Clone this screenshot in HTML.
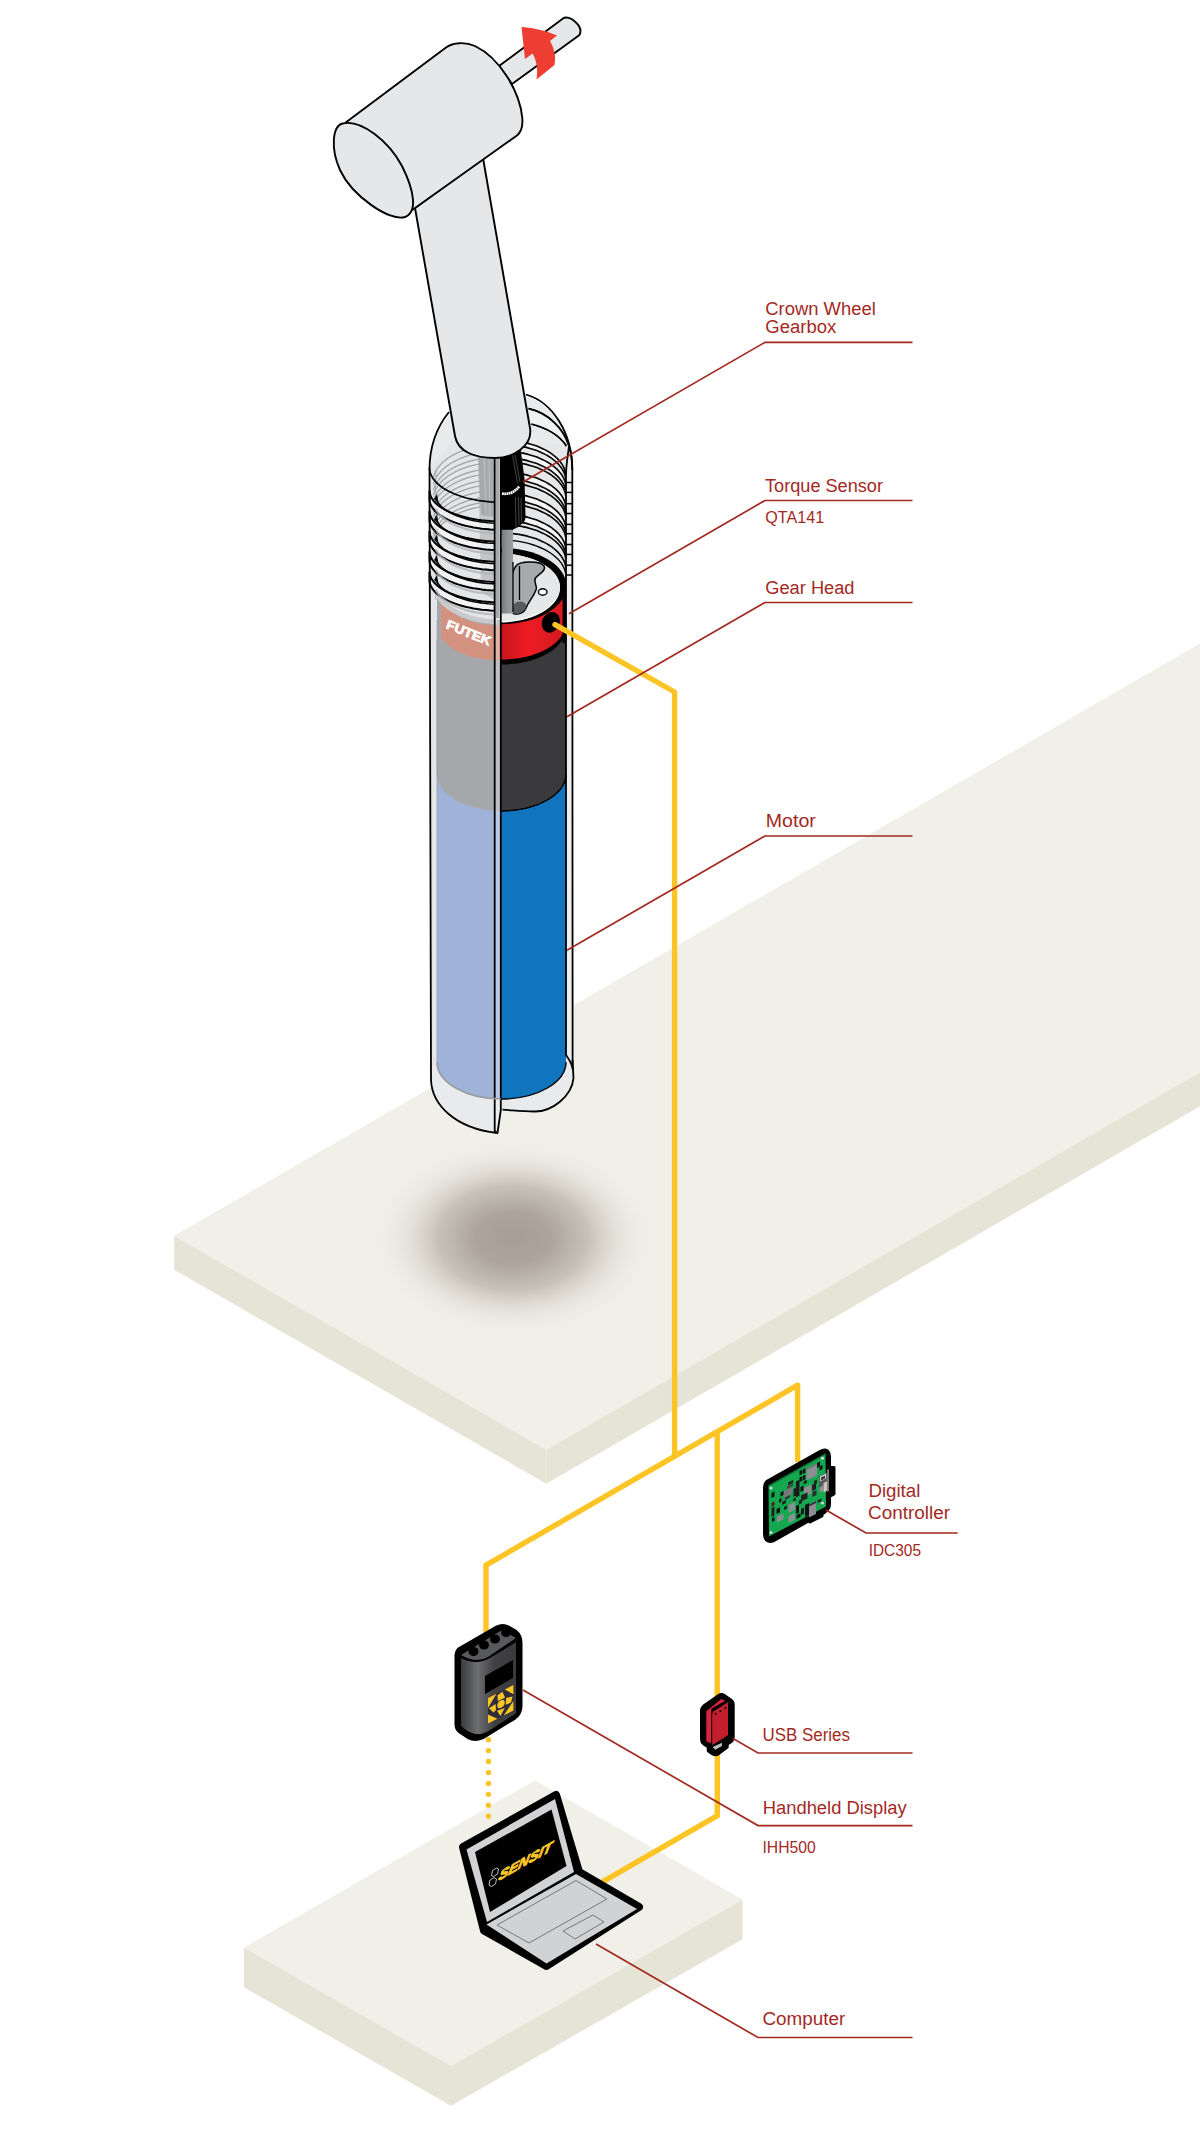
<!DOCTYPE html>
<html><head><meta charset="utf-8"><title>Diagram</title>
<style>html,body{margin:0;padding:0;background:#fff;}svg{display:block}</style></head>
<body><svg width="1200" height="2134" viewBox="0 0 1200 2134">
<defs>
<radialGradient id="shadow" cx="0.5" cy="0.5" r="0.5">
<stop offset="0" stop-color="#a79d94" stop-opacity="1"/>
<stop offset="0.25" stop-color="#a9a097" stop-opacity="0.95"/>
<stop offset="0.5" stop-color="#b5ada4" stop-opacity="0.7"/>
<stop offset="0.7" stop-color="#cfc9c0" stop-opacity="0.35"/>
<stop offset="0.88" stop-color="#e6e3da" stop-opacity="0.1"/>
<stop offset="1" stop-color="#f0efe8" stop-opacity="0"/>
</radialGradient>
<linearGradient id="redg" x1="0" x2="1" y1="0" y2="0">
<stop offset="0.5" stop-color="#c4161c"/><stop offset="0.7" stop-color="#ed1c24"/><stop offset="1" stop-color="#d2191f"/>
</linearGradient>
<linearGradient id="shaftg" x1="0" x2="1" y1="0" y2="0">
<stop offset="0" stop-color="#77787b"/><stop offset="0.5" stop-color="#8f9194"/><stop offset="1" stop-color="#9d9fa2"/>
</linearGradient>
<linearGradient id="hhg" x1="0" x2="1" y1="0" y2="0">
<stop offset="0" stop-color="#3a3a3c"/><stop offset="0.3" stop-color="#6d6e71"/><stop offset="0.6" stop-color="#414042"/><stop offset="1" stop-color="#3a3a3c"/>
</linearGradient>
</defs>
<rect width="1200" height="2134" fill="#fff"/>
<polygon points="174.2,1235.8 1200,643.5 1200,1072.3 546.3,1449.7" fill="#f0efe8"/>
<polygon points="174.2,1235.8 546.3,1449.7 546.3,1483.7 174.2,1269.8" fill="#e5e4d6"/>
<polygon points="546.3,1449.7 1200,1072.3 1200,1106.3 546.3,1483.7" fill="#e5e4d6"/>
<ellipse cx="513" cy="1238" rx="150" ry="104" fill="url(#shadow)"/>
<polygon points="244,1947.6 535,1780.4 742.6,1899.5 451,2066" fill="#f0efe8"/>
<polygon points="244,1947.6 451,2066 451,2105.7 244,1987.3" fill="#e5e4d6"/>
<polygon points="451,2066 742.6,1899.5 742.6,1939.2 451,2105.7" fill="#e5e4d6"/>
<g fill="none" stroke="#fcc425" stroke-width="5.4" stroke-linejoin="round">
<path d="M797.6,1462 L797.6,1385.2 L486,1565.2 L486,1640"/>
<path d="M717.2,1431 L717.2,1700"/>
<path d="M717.3,1750 L717.3,1815.6 L596,1885.6" stroke-linejoin="miter"/>
</g>
<path d="M488.5,1739.7 L488.5,1817" fill="none" stroke="#fcc425" stroke-width="5.4" stroke-linecap="round" stroke-dasharray="0.01 10.92"/>
<path d="M429.5,470 C429.5,425 460,392.5 503,392.5 C545,392.5 572.3,425 572.3,470 L573.5,1078 C572,1096 552,1112 534,1111.5 C522,1111.5 510,1110 502.5,1109.7 L497,1133 C455,1128 432,1105 431,1080 Z" fill="#e9eaeb"/>
<path d="M437,774 L437,1062 A64.5,37 0 0 0 566,1062 L566,774 Z" fill="#1174bf"/>
<path d="M437,620 L437,774 A64.5,37 0 0 0 566,774 L566,620 Z" fill="#3a3a3c" stroke="#000" stroke-width="1"/>
<path d="M437,600 L437,627.5 A64.5,37 0 0 0 566,627.5 L566,585 Z" fill="#000"/>
<path d="M437,585 L437,622.5 A64.5,37 0 0 0 566,622.5 L566,585 Z" fill="url(#redg)"/>
<rect x="562.6" y="585" width="4" height="58" fill="#000"/>
<path d="M501,440 L566,445 L566,586 L501,586 Z" fill="#e6e7e8"/>
<path d="M528.5,408.7 C548,413 563,428 568.5,445 M531.4,424 C547,428 560,436 566.5,446" fill="none" stroke="#000" stroke-width="1.7"/>
<path d="M528.5,408.7 C548,413 563,428 568.5,445 L566.5,446 C560,436 547,428 531.4,424 Z" fill="#f1f2f2"/>
<path d="M528.5,408.7 C548,413 563,428 568.5,445 M531.4,424 C547,428 560,436 566.5,446" fill="none" stroke="#000" stroke-width="1.7"/>
<path d="M503.3,440.0 L507.2,440.2 L511.2,440.5 L515.1,440.9 L518.9,441.4 L522.7,442.1 L526.4,442.9 L530.0,443.9 L533.5,445.0 L536.9,446.1 L540.1,447.5 L543.2,448.9 L546.2,450.4 L548.9,452.0 L551.5,453.7 L553.9,455.5 L556.1,457.4 L558.1,459.3 L559.9,461.4 L561.5,463.4 L562.8,465.6 L563.9,467.7 L564.8,469.9 L565.4,472.2 L565.8,474.4 L565.8,478.9 L565.4,476.7 L564.8,474.4 L563.9,472.2 L562.8,470.1 L561.5,467.9 L559.9,465.9 L558.1,463.8 L556.1,461.9 L553.9,460.0 L551.5,458.2 L548.9,456.5 L546.2,454.9 L543.2,453.4 L540.1,452.0 L536.9,450.6 L533.5,449.5 L530.0,448.4 L526.4,447.4 L522.7,446.6 L518.9,445.9 L515.1,445.4 L511.2,445.0 L507.2,444.7 L503.3,444.5 Z" fill="#f4f4f5" stroke="#000" stroke-width="1.6"/>
<path d="M503.3,451.0 L507.2,451.2 L511.2,451.5 L515.1,451.9 L518.9,452.4 L522.7,453.1 L526.4,453.9 L530.0,454.9 L533.5,456.0 L536.9,457.1 L540.1,458.5 L543.2,459.9 L546.2,461.4 L548.9,463.0 L551.5,464.7 L553.9,466.5 L556.1,468.4 L558.1,470.3 L559.9,472.4 L561.5,474.4 L562.8,476.6 L563.9,478.7 L564.8,480.9 L565.4,483.2 L565.8,485.4 L565.8,491.9 L565.4,489.7 L564.8,487.4 L563.9,485.2 L562.8,483.1 L561.5,480.9 L559.9,478.9 L558.1,476.8 L556.1,474.9 L553.9,473.0 L551.5,471.2 L548.9,469.5 L546.2,467.9 L543.2,466.4 L540.1,465.0 L536.9,463.6 L533.5,462.5 L530.0,461.4 L526.4,460.4 L522.7,459.6 L518.9,458.9 L515.1,458.4 L511.2,458.0 L507.2,457.7 L503.3,457.5 Z" fill="#f4f4f5" stroke="#000" stroke-width="1.6"/>
<path d="M503.3,461.5 L507.2,461.7 L511.2,462.0 L515.1,462.4 L518.9,462.9 L522.7,463.6 L526.4,464.4 L530.0,465.4 L533.5,466.5 L536.9,467.6 L540.1,469.0 L543.2,470.4 L546.2,471.9 L548.9,473.5 L551.5,475.2 L553.9,477.0 L556.1,478.9 L558.1,480.8 L559.9,482.9 L561.5,484.9 L562.8,487.1 L563.9,489.2 L564.8,491.4 L565.4,493.7 L565.8,495.9" fill="none" stroke="#000" stroke-width="1.6"/>
<path d="M503.3,472.0 L507.2,472.2 L511.2,472.5 L515.1,472.9 L518.9,473.4 L522.7,474.1 L526.4,474.9 L530.0,475.9 L533.5,477.0 L536.9,478.1 L540.1,479.5 L543.2,480.9 L546.2,482.4 L548.9,484.0 L551.5,485.7 L553.9,487.5 L556.1,489.4 L558.1,491.3 L559.9,493.4 L561.5,495.4 L562.8,497.6 L563.9,499.7 L564.8,501.9 L565.4,504.2 L565.8,506.4 L565.8,512.9 L565.4,510.7 L564.8,508.4 L563.9,506.2 L562.8,504.1 L561.5,501.9 L559.9,499.9 L558.1,497.8 L556.1,495.9 L553.9,494.0 L551.5,492.2 L548.9,490.5 L546.2,488.9 L543.2,487.4 L540.1,486.0 L536.9,484.6 L533.5,483.5 L530.0,482.4 L526.4,481.4 L522.7,480.6 L518.9,479.9 L515.1,479.4 L511.2,479.0 L507.2,478.7 L503.3,478.5 Z" fill="#f4f4f5" stroke="#000" stroke-width="1.6"/>
<path d="M503.3,482.5 L507.2,482.7 L511.2,483.0 L515.1,483.4 L518.9,483.9 L522.7,484.6 L526.4,485.4 L530.0,486.4 L533.5,487.5 L536.9,488.6 L540.1,490.0 L543.2,491.4 L546.2,492.9 L548.9,494.5 L551.5,496.2 L553.9,498.0 L556.1,499.9 L558.1,501.8 L559.9,503.9 L561.5,505.9 L562.8,508.1 L563.9,510.2 L564.8,512.4 L565.4,514.7 L565.8,516.9" fill="none" stroke="#000" stroke-width="1.6"/>
<path d="M503.3,493.0 L507.2,493.2 L511.2,493.5 L515.1,493.9 L518.9,494.4 L522.7,495.1 L526.4,495.9 L530.0,496.9 L533.5,498.0 L536.9,499.1 L540.1,500.5 L543.2,501.9 L546.2,503.4 L548.9,505.0 L551.5,506.7 L553.9,508.5 L556.1,510.4 L558.1,512.3 L559.9,514.4 L561.5,516.4 L562.8,518.6 L563.9,520.7 L564.8,522.9 L565.4,525.2 L565.8,527.4 L565.8,533.9 L565.4,531.7 L564.8,529.4 L563.9,527.2 L562.8,525.1 L561.5,522.9 L559.9,520.9 L558.1,518.8 L556.1,516.9 L553.9,515.0 L551.5,513.2 L548.9,511.5 L546.2,509.9 L543.2,508.4 L540.1,507.0 L536.9,505.6 L533.5,504.5 L530.0,503.4 L526.4,502.4 L522.7,501.6 L518.9,500.9 L515.1,500.4 L511.2,500.0 L507.2,499.7 L503.3,499.5 Z" fill="#f4f4f5" stroke="#000" stroke-width="1.6"/>
<path d="M503.3,503.5 L507.2,503.7 L511.2,504.0 L515.1,504.4 L518.9,504.9 L522.7,505.6 L526.4,506.4 L530.0,507.4 L533.5,508.5 L536.9,509.6 L540.1,511.0 L543.2,512.4 L546.2,513.9 L548.9,515.5 L551.5,517.2 L553.9,519.0 L556.1,520.9 L558.1,522.8 L559.9,524.9 L561.5,526.9 L562.8,529.1 L563.9,531.2 L564.8,533.4 L565.4,535.7 L565.8,537.9" fill="none" stroke="#000" stroke-width="1.6"/>
<path d="M503.3,514.0 L507.2,514.2 L511.2,514.5 L515.1,514.9 L518.9,515.4 L522.7,516.1 L526.4,516.9 L530.0,517.9 L533.5,519.0 L536.9,520.1 L540.1,521.5 L543.2,522.9 L546.2,524.4 L548.9,526.0 L551.5,527.7 L553.9,529.5 L556.1,531.4 L558.1,533.3 L559.9,535.4 L561.5,537.4 L562.8,539.6 L563.9,541.7 L564.8,543.9 L565.4,546.2 L565.8,548.4 L565.8,554.9 L565.4,552.7 L564.8,550.4 L563.9,548.2 L562.8,546.1 L561.5,543.9 L559.9,541.9 L558.1,539.8 L556.1,537.9 L553.9,536.0 L551.5,534.2 L548.9,532.5 L546.2,530.9 L543.2,529.4 L540.1,528.0 L536.9,526.6 L533.5,525.5 L530.0,524.4 L526.4,523.4 L522.7,522.6 L518.9,521.9 L515.1,521.4 L511.2,521.0 L507.2,520.7 L503.3,520.5 Z" fill="#f4f4f5" stroke="#000" stroke-width="1.6"/>
<path d="M503.3,524.5 L507.2,524.7 L511.2,525.0 L515.1,525.4 L518.9,525.9 L522.7,526.6 L526.4,527.4 L530.0,528.4 L533.5,529.5 L536.9,530.6 L540.1,532.0 L543.2,533.4 L546.2,534.9 L548.9,536.5 L551.5,538.2 L553.9,540.0 L556.1,541.9 L558.1,543.8 L559.9,545.9 L561.5,547.9 L562.8,550.1 L563.9,552.2 L564.8,554.4 L565.4,556.7 L565.8,558.9" fill="none" stroke="#000" stroke-width="1.6"/>
<path d="M503.3,533.0 L507.2,533.2 L511.2,533.5 L515.1,533.9 L518.9,534.4 L522.7,535.1 L526.4,535.9 L530.0,536.9 L533.5,538.0 L536.9,539.1 L540.1,540.5 L543.2,541.9 L546.2,543.4 L548.9,545.0 L551.5,546.7 L553.9,548.5 L556.1,550.4 L558.1,552.3 L559.9,554.4 L561.5,556.4 L562.8,558.6 L563.9,560.7 L564.8,562.9 L565.4,565.2 L565.8,567.4" fill="none" stroke="#000" stroke-width="1.6"/>
<path d="M503.3,540.0 L507.2,540.2 L511.2,540.5 L515.1,540.9 L518.9,541.4 L522.7,542.1 L526.4,542.9 L530.0,543.9 L533.5,545.0 L536.9,546.1 L540.1,547.5 L543.2,548.9 L546.2,550.4 L548.9,552.0 L551.5,553.7 L553.9,555.5 L556.1,557.4 L558.1,559.3 L559.9,561.4 L561.5,563.4 L562.8,565.6 L563.9,567.7 L564.8,569.9 L565.4,572.2 L565.8,574.4" fill="none" stroke="#000" stroke-width="1.4"/>
<ellipse cx="501" cy="586" rx="65.5" ry="38.2" fill="#000"/>
<ellipse cx="498.5" cy="588" rx="61.5" ry="34.6" fill="#fff"/>
<ellipse cx="498.5" cy="587.3" rx="61.5" ry="33.8" fill="#e6e7e8"/>
<path d="M516,566 C519,561 540,560.5 544,566 C547,571 538,574 535.5,578 C533,582 538,586 536,590 C533,598 528,602 526,608 C524,614 514,616 512,612 C508,600 509,575 516,566 Z" fill="#a7a9ac" stroke="#000" stroke-width="1.5"/>
<path d="M514,604 C518,600 526,601 526,606 C526,613 515,616 512.5,612 Z" fill="#58595b"/>
<ellipse cx="542.7" cy="592" rx="4.3" ry="3.2" fill="#fff" stroke="#000" stroke-width="1.4"/>
<rect x="501.5" y="525" width="11.5" height="88.5" fill="url(#shaftg)"/>
<path d="M513,562 L513,612 M519.5,566 L519.5,600" stroke="#000" stroke-width="1.3" fill="none"/>
<path d="M500.4,452 L520.6,449 L524.5,478.6 L525.5,517 Q525.5,521 522.6,523 L518.6,526.8 L512.7,529.8 L500.4,529.8 Z" fill="#000"/>
<path d="M502,493.6 Q513,495 519.3,486.2" fill="none" stroke="#fff" stroke-width="2.7" stroke-dasharray="1.8 0.4"/>
<path d="M512.5,455 L517.5,483 M515,455 L520,482 M515.5,497 L516,527 M518.5,497 L519,525 M521,498 L521.5,522" fill="none" stroke="#8a8c8f" stroke-width="0.5"/>
<ellipse cx="550.8" cy="622.3" rx="8.8" ry="10.6" transform="rotate(25 550.8 622.3)" fill="#000"/>
<path d="M566,475 L566,1055 C568,1058 572,1063 572.6,1069 L572.3,470 C572.3,460 571,452 569,446 C568,455 566,465 566,475 Z" fill="#eeeff0" stroke="#000" stroke-width="1.8" stroke-linejoin="round"/>
<path d="M566,482.5 L572.3,482.5" stroke="#000" stroke-width="1.5"/>
<path d="M566,492.4 L572.3,492.4" stroke="#000" stroke-width="1.5"/>
<path d="M566,503.7 L572.3,503.7" stroke="#000" stroke-width="1.5"/>
<path d="M566,513.5 L572.3,513.5" stroke="#000" stroke-width="1.5"/>
<path d="M566,524.4 L572.3,524.4" stroke="#000" stroke-width="1.5"/>
<path d="M566,533.7 L572.3,533.7" stroke="#000" stroke-width="1.5"/>
<path d="M566,544.5 L572.3,544.5" stroke="#000" stroke-width="1.5"/>
<path d="M566,554.4 L572.3,554.4" stroke="#000" stroke-width="1.5"/>
<path d="M566,565.2 L572.3,565.2" stroke="#000" stroke-width="1.5"/>
<path d="M566,575 L572.3,575" stroke="#000" stroke-width="1.5"/>
<path d="M437,470 L437,1062 A64.5,37 0 0 0 501,1099 L501,470 Z" fill="#9fb2d8"/>
<path d="M437,470 L437,774 A64.5,37 0 0 0 501,811 L501,470 Z" fill="#a6a7aa" />
<path d="M441,599 A60.5,37 0 0 0 497,625.5 L501,625.8 L501,660 L497,660 A60.5,37 0 0 1 441,637.5 Z" fill="#d3927f"/>
<path d="M430,470 L430,579 A71,39 0 0 0 501,620 L501,455 L455,437 Z" fill="#e4e5e7"/>
<path d="M436,583 A64.5,37 0 0 0 497,622" fill="none" stroke="#c9cacc" stroke-width="5"/>
<path d="M478,452 L495,455 L495,600 L481,592 Z" fill="#c4c5c7"/>
<path d="M478,452 L495,455 L495,517 L481,515 Z" fill="#a7a9ac"/>
<path d="M484,456 L486,515 M489,456 L490,516" stroke="#c4c6c8" stroke-width="0.8" fill="none"/>
<path d="M434.3,590 L434.3,1066" stroke="#e4e5e7" stroke-width="5" fill="none"/>
<path d="M435.8,470 L435.8,600" stroke="#b1b3b6" stroke-width="1" fill="none"/>
<path d="M433.5,477.4 L434.0,475.6 L434.6,473.8 L435.4,472.1 L436.3,470.4 L437.3,468.7 L438.5,467.0 L439.9,465.4 L441.3,463.8 L442.9,462.2 L444.7,460.7 L446.5,459.2 L448.5,457.8 L450.6,456.5 L452.8,455.2 L455.2,453.9 L457.6,452.7 L460.1,451.6 L462.7,450.6 L465.4,449.6 L468.2,448.7 L471.1,447.9 L474.0,447.1 L477.0,446.5 L480.0,445.9" fill="none" stroke="#a0a2a5" stroke-width="1.2"/>
<path d="M433.5,484.4 L434.0,482.6 L434.6,480.8 L435.4,479.1 L436.3,477.4 L437.3,475.7 L438.5,474.0 L439.9,472.4 L441.3,470.8 L442.9,469.2 L444.7,467.7 L446.5,466.2 L448.5,464.8 L450.6,463.5 L452.8,462.2 L455.2,460.9 L457.6,459.7 L460.1,458.6 L462.7,457.6 L465.4,456.6 L468.2,455.7 L471.1,454.9 L474.0,454.1 L477.0,453.5 L480.0,452.9" fill="none" stroke="#a0a2a5" stroke-width="1.2"/>
<path d="M433.5,490.4 L434.0,488.6 L434.6,486.8 L435.4,485.1 L436.3,483.4 L437.3,481.7 L438.5,480.0 L439.9,478.4 L441.3,476.8 L442.9,475.2 L444.7,473.7 L446.5,472.2 L448.5,470.8 L450.6,469.5 L452.8,468.2 L455.2,466.9 L457.6,465.7 L460.1,464.6 L462.7,463.6 L465.4,462.6 L468.2,461.7 L471.1,460.9 L474.0,460.1 L477.0,459.5 L480.0,458.9" fill="none" stroke="#a0a2a5" stroke-width="1.2"/>
<path d="M433.5,495.4 L434.0,493.6 L434.6,491.8 L435.4,490.1 L436.3,488.4 L437.3,486.7 L438.5,485.0 L439.9,483.4 L441.3,481.8 L442.9,480.2 L444.7,478.7 L446.5,477.2 L448.5,475.8 L450.6,474.5 L452.8,473.2 L455.2,471.9 L457.6,470.7 L460.1,469.6 L462.7,468.6 L465.4,467.6 L468.2,466.7 L471.1,465.9 L474.0,465.1 L477.0,464.5 L480.0,463.9" fill="none" stroke="#a0a2a5" stroke-width="1.2"/>
<path d="M433.5,501.4 L434.0,499.6 L434.6,497.8 L435.4,496.1 L436.3,494.4 L437.3,492.7 L438.5,491.0 L439.9,489.4 L441.3,487.8 L442.9,486.2 L444.7,484.7 L446.5,483.2 L448.5,481.8 L450.6,480.5 L452.8,479.2 L455.2,477.9 L457.6,476.7 L460.1,475.6 L462.7,474.6 L465.4,473.6 L468.2,472.7 L471.1,471.9 L474.0,471.1 L477.0,470.5 L480.0,469.9" fill="none" stroke="#a0a2a5" stroke-width="1.2"/>
<path d="M433.5,506.4 L434.0,504.6 L434.6,502.8 L435.4,501.1 L436.3,499.4 L437.3,497.7 L438.5,496.0 L439.9,494.4 L441.3,492.8 L442.9,491.2 L444.7,489.7 L446.5,488.2 L448.5,486.8 L450.6,485.5 L452.8,484.2 L455.2,482.9 L457.6,481.7 L460.1,480.6 L462.7,479.6 L465.4,478.6 L468.2,477.7 L471.1,476.9 L474.0,476.1 L477.0,475.5 L480.0,474.9" fill="none" stroke="#a0a2a5" stroke-width="1.2"/>
<path d="M433.5,512.4 L434.0,510.6 L434.6,508.8 L435.4,507.1 L436.3,505.4 L437.3,503.7 L438.5,502.0 L439.9,500.4 L441.3,498.8 L442.9,497.2 L444.7,495.7 L446.5,494.2 L448.5,492.8 L450.6,491.5 L452.8,490.2 L455.2,488.9 L457.6,487.7 L460.1,486.6 L462.7,485.6 L465.4,484.6 L468.2,483.7 L471.1,482.9 L474.0,482.1 L477.0,481.5 L480.0,480.9" fill="none" stroke="#a0a2a5" stroke-width="1.2"/>
<path d="M433.5,517.4 L434.0,515.6 L434.6,513.8 L435.4,512.1 L436.3,510.4 L437.3,508.7 L438.5,507.0 L439.9,505.4 L441.3,503.8 L442.9,502.2 L444.7,500.7 L446.5,499.2 L448.5,497.8 L450.6,496.5 L452.8,495.2 L455.2,493.9 L457.6,492.7 L460.1,491.6 L462.7,490.6 L465.4,489.6 L468.2,488.7 L471.1,487.9 L474.0,487.1 L477.0,486.5 L480.0,485.9" fill="none" stroke="#a0a2a5" stroke-width="1.2"/>
<path d="M433.5,523.4 L434.0,521.6 L434.6,519.8 L435.4,518.1 L436.3,516.4 L437.3,514.7 L438.5,513.0 L439.9,511.4 L441.3,509.8 L442.9,508.2 L444.7,506.7 L446.5,505.2 L448.5,503.8 L450.6,502.5 L452.8,501.2 L455.2,499.9 L457.6,498.7 L460.1,497.6 L462.7,496.6 L465.4,495.6 L468.2,494.7 L471.1,493.9 L474.0,493.1 L477.0,492.5 L480.0,491.9" fill="none" stroke="#a0a2a5" stroke-width="1.2"/>
<path d="M433.5,529.4 L434.0,527.6 L434.6,525.8 L435.4,524.1 L436.3,522.4 L437.3,520.7 L438.5,519.0 L439.9,517.4 L441.3,515.8 L442.9,514.2 L444.7,512.7 L446.5,511.2 L448.5,509.8 L450.6,508.5 L452.8,507.2 L455.2,505.9 L457.6,504.7 L460.1,503.6 L462.7,502.6 L465.4,501.6 L468.2,500.7 L471.1,499.9 L474.0,499.1 L477.0,498.5 L480.0,497.9" fill="none" stroke="#a0a2a5" stroke-width="1.2"/>
<path d="M433.5,534.4 L434.0,532.6 L434.6,530.8 L435.4,529.1 L436.3,527.4 L437.3,525.7 L438.5,524.0 L439.9,522.4 L441.3,520.8 L442.9,519.2 L444.7,517.7 L446.5,516.2 L448.5,514.8 L450.6,513.5 L452.8,512.2 L455.2,510.9 L457.6,509.7 L460.1,508.6 L462.7,507.6 L465.4,506.6 L468.2,505.7 L471.1,504.9 L474.0,504.1 L477.0,503.5 L480.0,502.9" fill="none" stroke="#a0a2a5" stroke-width="1.2"/>
<path d="M433.5,538.4 L434.0,536.6 L434.6,534.8 L435.4,533.1 L436.3,531.4 L437.3,529.7 L438.5,528.0 L439.9,526.4 L441.3,524.8 L442.9,523.2 L444.7,521.7 L446.5,520.2 L448.5,518.8 L450.6,517.5 L452.8,516.2 L455.2,514.9 L457.6,513.7 L460.1,512.6 L462.7,511.6 L465.4,510.6 L468.2,509.7 L471.1,508.9 L474.0,508.1 L477.0,507.5 L480.0,506.9" fill="none" stroke="#a0a2a5" stroke-width="1.2"/>
<path d="M429.5,490.6 L429.6,492.5 L430.0,494.4 L430.7,496.3 L431.7,498.1 L432.9,500.0 L434.4,501.8 L436.1,503.5 L438.1,505.2 L440.3,506.9 L442.7,508.4 L445.4,510.0 L448.3,511.4 L451.4,512.8 L454.6,514.0 L458.1,515.2 L461.7,516.3 L465.5,517.3 L469.4,518.2 L473.4,519.0 L477.5,519.7 L481.7,520.3 L486.0,520.7 L490.4,521.1 L494.8,521.3 L494.8,529.7 L490.4,529.5 L486.0,529.1 L481.7,528.7 L477.5,528.1 L473.4,527.4 L469.4,526.6 L465.5,525.7 L461.7,524.7 L458.1,523.6 L454.6,522.4 L451.4,521.2 L448.3,519.8 L445.4,518.4 L442.7,516.8 L440.3,515.3 L438.1,513.6 L436.1,511.9 L434.4,510.2 L432.9,508.4 L431.7,506.5 L430.7,504.7 L430.0,502.8 L429.6,500.9 L429.5,499.0 Z" fill="#f6f6f7" fill-opacity="0.8" stroke="#000" stroke-width="2"/>
<path d="M435.6,497.9 L436.3,499.5 L437.1,501.1 L438.1,502.7 L439.3,504.3 L440.7,505.8 L442.3,507.3 L444.1,508.8 L446.1,510.2 L448.2,511.5 L450.5,512.8 L453.0,514.0 L455.6,515.2 L458.3,516.3 L461.2,517.3 L464.2,518.3 L467.3,519.2 L470.6,520.0 L473.9,520.7 L477.3,521.3 L480.8,521.9 L484.3,522.3 L487.9,522.7 L491.6,523.0 L495.2,523.2" fill="none" stroke="#000" stroke-width="1.6"/>
<path d="M434,499.1 l3,-5 l1.5,9 z" fill="#000"/>
<path d="M436.0,508.8 L436.7,510.4 L437.6,512.0 L438.7,513.6 L440.0,515.1 L441.5,516.6 L443.1,518.0 L445.0,519.4 L446.9,520.8 L449.1,522.1 L451.4,523.4 L453.8,524.6 L456.4,525.7 L459.1,526.8 L462.0,527.8 L464.9,528.7 L468.0,529.6 L471.2,530.4 L474.4,531.1 L477.8,531.7 L481.2,532.2 L484.6,532.7 L488.1,533.0 L491.7,533.3 L495.2,533.5" fill="none" stroke="#b1b3b6" stroke-width="2.2" stroke-opacity="0.8"/>
<path d="M429.5,510.9 L429.6,512.8 L430.0,514.6 L430.7,516.5 L431.7,518.4 L432.9,520.2 L434.4,522.0 L436.1,523.8 L438.1,525.5 L440.3,527.1 L442.7,528.7 L445.4,530.2 L448.3,531.7 L451.4,533.0 L454.6,534.3 L458.1,535.5 L461.7,536.6 L465.5,537.6 L469.4,538.5 L473.4,539.3 L477.5,539.9 L481.7,540.5 L486.0,541.0 L490.4,541.3 L494.8,541.5 L494.8,549.9 L490.4,549.7 L486.0,549.4 L481.7,548.9 L477.5,548.3 L473.4,547.7 L469.4,546.9 L465.5,546.0 L461.7,545.0 L458.1,543.9 L454.6,542.7 L451.4,541.4 L448.3,540.1 L445.4,538.6 L442.7,537.1 L440.3,535.5 L438.1,533.9 L436.1,532.2 L434.4,530.4 L432.9,528.6 L431.7,526.8 L430.7,524.9 L430.0,523.0 L429.6,521.2 L429.5,519.2 Z" fill="#f6f6f7" fill-opacity="0.8" stroke="#000" stroke-width="2"/>
<path d="M435.6,518.2 L436.3,519.8 L437.1,521.4 L438.1,523.0 L439.3,524.5 L440.7,526.1 L442.3,527.6 L444.1,529.0 L446.1,530.4 L448.2,531.8 L450.5,533.0 L453.0,534.3 L455.6,535.4 L458.3,536.6 L461.2,537.6 L464.2,538.5 L467.3,539.4 L470.6,540.2 L473.9,540.9 L477.3,541.6 L480.8,542.1 L484.3,542.6 L487.9,543.0 L491.6,543.2 L495.2,543.4" fill="none" stroke="#000" stroke-width="1.6"/>
<path d="M434,519.4 l3,-5 l1.5,9 z" fill="#000"/>
<path d="M436.0,529.1 L436.7,530.7 L437.6,532.2 L438.7,533.8 L440.0,535.3 L441.5,536.8 L443.1,538.3 L445.0,539.7 L446.9,541.1 L449.1,542.4 L451.4,543.6 L453.8,544.8 L456.4,546.0 L459.1,547.0 L462.0,548.0 L464.9,549.0 L468.0,549.8 L471.2,550.6 L474.4,551.3 L477.8,551.9 L481.2,552.5 L484.6,552.9 L488.1,553.3 L491.7,553.5 L495.2,553.7" fill="none" stroke="#b1b3b6" stroke-width="2.2" stroke-opacity="0.8"/>
<path d="M429.5,531.1 L429.6,533.0 L430.0,534.9 L430.7,536.8 L431.7,538.6 L432.9,540.5 L434.4,542.3 L436.1,544.0 L438.1,545.7 L440.3,547.4 L442.7,548.9 L445.4,550.5 L448.3,551.9 L451.4,553.3 L454.6,554.5 L458.1,555.7 L461.7,556.8 L465.5,557.8 L469.4,558.7 L473.4,559.5 L477.5,560.2 L481.7,560.8 L486.0,561.2 L490.4,561.6 L494.8,561.8 L494.8,570.2 L490.4,570.0 L486.0,569.6 L481.7,569.2 L477.5,568.6 L473.4,567.9 L469.4,567.1 L465.5,566.2 L461.7,565.2 L458.1,564.1 L454.6,562.9 L451.4,561.7 L448.3,560.3 L445.4,558.9 L442.7,557.3 L440.3,555.8 L438.1,554.1 L436.1,552.4 L434.4,550.7 L432.9,548.9 L431.7,547.0 L430.7,545.2 L430.0,543.3 L429.6,541.4 L429.5,539.5 Z" fill="#f6f6f7" fill-opacity="0.8" stroke="#000" stroke-width="2"/>
<path d="M435.6,538.4 L436.3,540.0 L437.1,541.6 L438.1,543.2 L439.3,544.8 L440.7,546.3 L442.3,547.8 L444.1,549.3 L446.1,550.7 L448.2,552.0 L450.5,553.3 L453.0,554.5 L455.6,555.7 L458.3,556.8 L461.2,557.8 L464.2,558.8 L467.3,559.7 L470.6,560.5 L473.9,561.2 L477.3,561.8 L480.8,562.4 L484.3,562.8 L487.9,563.2 L491.6,563.5 L495.2,563.7" fill="none" stroke="#000" stroke-width="1.6"/>
<path d="M434,539.6 l3,-5 l1.5,9 z" fill="#000"/>
<path d="M436.0,549.3 L436.7,550.9 L437.6,552.5 L438.7,554.1 L440.0,555.6 L441.5,557.1 L443.1,558.5 L445.0,559.9 L446.9,561.3 L449.1,562.6 L451.4,563.9 L453.8,565.1 L456.4,566.2 L459.1,567.3 L462.0,568.3 L464.9,569.2 L468.0,570.1 L471.2,570.9 L474.4,571.6 L477.8,572.2 L481.2,572.7 L484.6,573.2 L488.1,573.5 L491.7,573.8 L495.2,574.0" fill="none" stroke="#b1b3b6" stroke-width="2.2" stroke-opacity="0.8"/>
<path d="M429.5,551.4 L429.6,553.3 L430.0,555.1 L430.7,557.0 L431.7,558.9 L432.9,560.7 L434.4,562.5 L436.1,564.3 L438.1,566.0 L440.3,567.6 L442.7,569.2 L445.4,570.7 L448.3,572.2 L451.4,573.5 L454.6,574.8 L458.1,576.0 L461.7,577.1 L465.5,578.1 L469.4,579.0 L473.4,579.8 L477.5,580.4 L481.7,581.0 L486.0,581.5 L490.4,581.8 L494.8,582.0 L494.8,590.4 L490.4,590.2 L486.0,589.9 L481.7,589.4 L477.5,588.8 L473.4,588.2 L469.4,587.4 L465.5,586.5 L461.7,585.5 L458.1,584.4 L454.6,583.2 L451.4,581.9 L448.3,580.6 L445.4,579.1 L442.7,577.6 L440.3,576.0 L438.1,574.4 L436.1,572.7 L434.4,570.9 L432.9,569.1 L431.7,567.3 L430.7,565.4 L430.0,563.5 L429.6,561.7 L429.5,559.8 Z" fill="#f6f6f7" fill-opacity="0.8" stroke="#000" stroke-width="2"/>
<path d="M435.6,558.7 L436.3,560.3 L437.1,561.9 L438.1,563.5 L439.3,565.0 L440.7,566.6 L442.3,568.1 L444.1,569.5 L446.1,570.9 L448.2,572.3 L450.5,573.5 L453.0,574.8 L455.6,575.9 L458.3,577.1 L461.2,578.1 L464.2,579.0 L467.3,579.9 L470.6,580.7 L473.9,581.4 L477.3,582.1 L480.8,582.6 L484.3,583.1 L487.9,583.5 L491.6,583.7 L495.2,583.9" fill="none" stroke="#000" stroke-width="1.6"/>
<path d="M434,559.9 l3,-5 l1.5,9 z" fill="#000"/>
<path d="M436.0,569.6 L436.7,571.2 L437.6,572.7 L438.7,574.3 L440.0,575.8 L441.5,577.3 L443.1,578.8 L445.0,580.2 L446.9,581.6 L449.1,582.9 L451.4,584.1 L453.8,585.3 L456.4,586.5 L459.1,587.5 L462.0,588.5 L464.9,589.5 L468.0,590.3 L471.2,591.1 L474.4,591.8 L477.8,592.4 L481.2,593.0 L484.6,593.4 L488.1,593.8 L491.7,594.0 L495.2,594.2" fill="none" stroke="#b1b3b6" stroke-width="2.2" stroke-opacity="0.8"/>
<path d="M429.5,571.6 L429.6,573.5 L430.0,575.4 L430.7,577.3 L431.7,579.1 L432.9,581.0 L434.4,582.8 L436.1,584.5 L438.1,586.2 L440.3,587.9 L442.7,589.4 L445.4,591.0 L448.3,592.4 L451.4,593.8 L454.6,595.0 L458.1,596.2 L461.7,597.3 L465.5,598.3 L469.4,599.2 L473.4,600.0 L477.5,600.7 L481.7,601.3 L486.0,601.7 L490.4,602.1 L494.8,602.3 L494.8,610.7 L490.4,610.5 L486.0,610.1 L481.7,609.7 L477.5,609.1 L473.4,608.4 L469.4,607.6 L465.5,606.7 L461.7,605.7 L458.1,604.6 L454.6,603.4 L451.4,602.2 L448.3,600.8 L445.4,599.4 L442.7,597.8 L440.3,596.3 L438.1,594.6 L436.1,592.9 L434.4,591.2 L432.9,589.4 L431.7,587.5 L430.7,585.7 L430.0,583.8 L429.6,581.9 L429.5,580.0 Z" fill="#f6f6f7" fill-opacity="0.8" stroke="#000" stroke-width="2"/>
<path d="M435.6,578.9 L436.3,580.5 L437.1,582.1 L438.1,583.7 L439.3,585.3 L440.7,586.8 L442.3,588.3 L444.1,589.8 L446.1,591.2 L448.2,592.5 L450.5,593.8 L453.0,595.0 L455.6,596.2 L458.3,597.3 L461.2,598.3 L464.2,599.3 L467.3,600.2 L470.6,601.0 L473.9,601.7 L477.3,602.3 L480.8,602.9 L484.3,603.3 L487.9,603.7 L491.6,604.0 L495.2,604.2" fill="none" stroke="#000" stroke-width="1.6"/>
<path d="M434,580.1 l3,-5 l1.5,9 z" fill="#000"/>
<path d="M436.0,589.8 L436.7,591.4 L437.6,593.0 L438.7,594.6 L440.0,596.1 L441.5,597.6 L443.1,599.0 L445.0,600.4 L446.9,601.8 L449.1,603.1 L451.4,604.4 L453.8,605.6 L456.4,606.7 L459.1,607.8 L462.0,608.8 L464.9,609.7 L468.0,610.6 L471.2,611.4 L474.4,612.1 L477.8,612.7 L481.2,613.2 L484.6,613.7 L488.1,614.0 L491.7,614.3 L495.2,614.5" fill="none" stroke="#b1b3b6" stroke-width="2.2" stroke-opacity="0.8"/>
<path d="M429.5,467.8 L429.6,469.9 L430.0,472.0 L430.7,474.1 L431.7,476.2 L432.9,478.3 L434.4,480.3 L436.1,482.2 L438.1,484.1 L440.3,486.0 L442.7,487.7 L445.4,489.4 L448.3,491.0 L451.4,492.6 L454.6,494.0 L458.1,495.3 L461.7,496.5 L465.5,497.7 L469.4,498.7 L473.4,499.5 L477.5,500.3 L481.7,500.9 L486.0,501.4 L490.4,501.8 L494.8,502.1" fill="none" stroke="#000" stroke-width="1.7"/>
<text transform="matrix(0.93,0.38,-0.14,1,446,628.3)" font-family="Liberation Sans, sans-serif" font-weight="bold" font-style="italic" font-size="13.2" fill="#fff" stroke="#fff" stroke-width="0.7" textLength="47" lengthAdjust="spacingAndGlyphs">FUTEK</text>
<path d="M437,640 L437,1062" stroke="#9a9c9f" stroke-width="0.8" fill="none"/>
<path d="M494.7,457 L494.7,620 L500.8,620 L500.8,457 Z" fill="#e6e7e8" fill-opacity="0.85"/>
<path d="M494.7,620 L494.7,1099 L500.8,1099 L500.8,620 Z" fill="#fff" fill-opacity="0.3"/>
<path d="M494.7,1099 L494.7,1131 L497.5,1133 L500.8,1110 L500.8,1099 Z" fill="#ecedee"/>
<path d="M494.7,457 L494.7,1131 L497.5,1133 L500.8,1110 L500.8,457 Z" fill="none" stroke="#000" stroke-width="1.8" stroke-linejoin="round"/>
<rect x="496" y="458" width="3.4" height="160" fill="#a7a9ac"/>
<path d="M449,412 C436,428 429.5,448 429.5,470 L431,1080 C432,1105 455,1128 497,1133" fill="none" stroke="#000" stroke-width="1.8" stroke-linejoin="round"/>
<path d="M526,394.5 C552,402 572.3,432 572.3,470" fill="none" stroke="#000" stroke-width="1.8" stroke-linejoin="round"/>
<path d="M572.5,1060 L573.5,1078 C572,1096 552,1112 534,1111.5 C522,1111.5 510,1110 502.5,1109.7" fill="none" stroke="#000" stroke-width="1.8" stroke-linejoin="round"/>
<path d="M501,1099 A64.5,37 0 0 0 566,1062" fill="none" stroke="#000" stroke-width="1.4"/>
<path d="M437,1062 A64.5,37 0 0 0 501,1099" fill="none" stroke="#9a9c9f" stroke-width="1.6"/>
<path d="M501,811 A64.5,37 0 0 0 566,774" fill="none" stroke="#000" stroke-width="1.2"/>
<path d="M499,66 L563,18.5 C569,14 584,26 579.5,35 L512,84 Z" fill="#e6e7e8" stroke="#000" stroke-width="1.9" stroke-linejoin="round"/>
<path d="M415,208 L455,436 C458,452 475,458 495,458 C513,458 533,446 530,428 L483,158 Z" fill="#e6e7e8" stroke="#000" stroke-width="1.9" stroke-linejoin="round"/>
<path d="M345.7,122.6 L446,47.5 C453,42 466,42 475,46 C500,58 520,92 522.3,118 C523,127 521,132.5 517,135.4 L412.6,209.7 C400,160 375,128 345.7,122.6 Z" fill="#e6e7e8" stroke="#000" stroke-width="1.9" stroke-linejoin="round"/>
<path d="M345,123 C331,124 331,150 340,170 C352,196 390,222 405,217 C418,212 414,190 402,166 C388,140 362,121 345,123 Z" fill="#e6e7e8" stroke="#000" stroke-width="1.9" stroke-linejoin="round"/>
<path d="M521.5,27 C535,28 547,31 557,35.5 L550,41 C555,50 556,58 554.5,65 L536.5,79.5 C538,70 537,61 532.5,53.5 L525,59 Z" fill="#ee3d32"/>
<path d="M555,624.6 L674.6,692 L674.6,1456" fill="none" stroke="#fcc425" stroke-width="5.4" stroke-linejoin="round" stroke-linecap="round"/>
<g>
<path d="M767.5,1481 L820,1451.5 Q829,1447 829.5,1457 L829.5,1467.5 L834,1467.5 L834,1494 L829.5,1496.5 L829.5,1504 Q829.5,1509 825,1512 L822,1514 L822,1516 L810,1522 L808.5,1521 L774,1540.5 Q765,1544 764.5,1534 L764.5,1488 Q764.5,1483.5 767.5,1481 Z" fill="#000" stroke="#000" stroke-width="3" stroke-linejoin="round"/>
<path d="M768.5,1485.5 L825.5,1453.5 L826,1506.5 L769,1536.5 Z" fill="#13a74f"/>
<path d="M768.5,1485.5 L825.5,1453.5 L825.5,1455 L768.5,1487 Z" fill="#0b7a37"/>
<path d="M806.5,1468.5 l10.5,-5.25 l0,12 l-10.5,5.25 Z" fill="#8c8e91"/>
<path d="M806.5,1468.5 l10.5,-5.25 l0,1.2 l-10.5,5.25 Z" fill="#6d6e71"/>
<path d="M799.5,1471 l2.6,-1.3 l0,4.5 l-2.6,1.3 Z" fill="#111"/>
<path d="M802.8,1469.5 l2.6,-1.3 l0,4.5 l-2.6,1.3 Z" fill="#111"/>
<path d="M799.5,1477.5 l2.6,-1.3 l0,4.5 l-2.6,1.3 Z" fill="#111"/>
<path d="M802.8,1476 l2.6,-1.3 l0,4.5 l-2.6,1.3 Z" fill="#111"/>
<path d="M784,1491 l8.5,-4.25 l0,7 l-8.5,4.25 Z" fill="#77787b"/>
<path d="M780.5,1492.5 l3,-1.5 l0,4 l-3,1.5 Z" fill="#111"/>
<path d="M788,1482.5 l5,-2.5 l0,3 l-5,2.5 Z" fill="#222"/>
<path d="M787,1486.5 l6,-3.0 l0,2.5 l-6,3.0 Z" fill="#444"/>
<path d="M804,1488 l7.5,-3.75 l0,9 l-7.5,3.75 Z" fill="#8c8e91"/>
<path d="M796,1481.5 l3.5,-1.75 l0,16 l-3.5,1.75 Z" fill="#1a1a1a"/>
<path d="M801,1495.5 l6.5,-3.25 l0,6 l-6.5,3.25 Z" fill="#222"/>
<path d="M812,1485 l4,-2.0 l0,6 l-4,2.0 Z" fill="#1d1d1d"/>
<path d="M800.5,1487 l3,-1.5 l0,5 l-3,1.5 Z" fill="#111"/>
<path d="M788.5,1505 l6.5,-3.25 l0,8 l-6.5,3.25 Z" fill="#8c8e91"/>
<path d="M788.5,1516 l6.5,-3.25 l0,7 l-6.5,3.25 Z" fill="#8c8e91"/>
<path d="M796,1506 l3,-1.5 l0,8 l-3,1.5 Z" fill="#111"/>
<path d="M796.5,1515 l4,-2.0 l0,4 l-4,2.0 Z" fill="#111"/>
<path d="M809,1504.5 l7,-3.5 l0,13 l-7,3.5 Z" fill="#8c8e91"/>
<path d="M805,1505 l4,-2.0 l0,12 l-4,2.0 Z" fill="#111"/>
<path d="M809,1504.5 l7,-3.5 l0,2 l-7,3.5 Z" fill="#333"/>
<path d="M777,1516.5 l6.5,-3.25 l0,6 l-6.5,3.25 Z" fill="#8c8e91"/>
<path d="M776.5,1509 l3.5,-1.75 l0,5 l-3.5,1.75 Z" fill="#111"/>
<path d="M771.5,1493 l3,-1.5 l0,5 l-3,1.5 Z" fill="#111"/>
<path d="M771.5,1503 l3,-1.5 l0,4 l-3,1.5 Z" fill="#5a1a1a"/>
<path d="M771.5,1508 l3,-1.5 l0,9 l-3,1.5 Z" fill="#222"/>
<path d="M772,1518 l2.5,-1.25 l0,4 l-2.5,1.25 Z" fill="#111"/>
<path d="M782,1502 l4,-2.0 l0,3 l-4,2.0 Z" fill="#222"/>
<path d="M784,1507 l3,-1.5 l0,3 l-3,1.5 Z" fill="#222"/>
<path d="M817.5,1500.5 l4,-2.0 l0,2.5 l-4,2.0 Z" fill="#222"/>
<path d="M817,1463 l3,-1.5 l0,5 l-3,1.5 Z" fill="#111"/>
<path d="M819.5,1466.5 l3,-1.5 l0,4 l-3,1.5 Z" fill="#111"/>
<path d="M814,1481 l3,-1.5 l0,4 l-3,1.5 Z" fill="#222"/>
<path d="M793,1499 l3,-1.5 l0,2.5 l-3,1.5 Z" fill="#222"/>
<path d="M793.5,1489 l2.5,-1.25 l0,8 l-2.5,1.25 Z" fill="#1a1a1a"/>
<path d="M799,1500.5 l3,-1.5 l0,4 l-3,1.5 Z" fill="#222"/>
<path d="M803.5,1481.5 l3.5,-1.75 l0,3 l-3.5,1.75 Z" fill="#222"/>
<path d="M785,1497.5 l5,-2.5 l0,2.5 l-5,2.5 Z" fill="#333"/>
<path d="M812.5,1492 l4,-2.0 l0,5 l-4,2.0 Z" fill="#2a2a2a"/>
<path d="M779,1499 l2.5,-1.25 l0,4 l-2.5,1.25 Z" fill="#222"/>
<path d="M801,1509 l3,-1.5 l0,6 l-3,1.5 Z" fill="#1a1a1a"/>
<path d="M819,1476.5 l9.5,-4.75 l0,15 l-9.5,4.75 Z" fill="#58595b"/>
<path d="M820,1476.5 l6,-3.0 l0,5 l-6,3.0 Z" fill="#d1d3d4"/>
<path d="M821,1477.5 l4,-2.0 l0,3 l-4,2.0 Z" fill="#3a3a3c"/>
<path d="M823.5,1483 l5.5,-2.75 l0,9.5 l-5.5,2.75 Z" fill="#cfc5b4"/>
<path d="M819.5,1487.5 l4,-2.0 l0,5 l-4,2.0 Z" fill="#939598"/>
<path d="M827,1470 l2,-1.0 l0,22 l-2,1.0 Z" fill="#77787b"/>
<circle cx="822.5" cy="1458.2" r="1.6" fill="#d1d3d4"/>
<circle cx="771" cy="1488" r="1.6" fill="#d1d3d4"/>
<circle cx="822.5" cy="1503" r="1.6" fill="#d1d3d4"/>
<circle cx="771" cy="1532.5" r="1.6" fill="#d1d3d4"/>
</g>
<g>
<path d="M459,1650 L497,1628 Q503,1625 508,1628 L515,1632 Q520,1636 520,1643 L520,1706 Q520,1713 514,1717.5 L482,1737 Q475,1740 469,1737 L460,1731 Q457,1729 457,1724 L457,1655 Q457,1652 459,1650 Z" fill="#000" stroke="#000" stroke-width="5" stroke-linejoin="round"/>
<path d="M461,1658 L461,1726 Q476,1740 490,1730 L516,1713.5 L516,1642 L490,1658 Q476,1666 461,1658 Z" fill="url(#hhg)"/>
<path d="M461,1655 L502,1630 L516,1638 L488,1657 Q476,1664 461,1655 Z" fill="#58595b"/>
<ellipse cx="473.5" cy="1651.5" rx="5" ry="4.6" fill="#000"/>
<ellipse cx="484" cy="1645" rx="5" ry="4.6" fill="#000"/>
<ellipse cx="495" cy="1639" rx="5" ry="4.6" fill="#000"/>
<ellipse cx="506" cy="1632.5" rx="5" ry="4.6" fill="#000"/>
<path d="M485,1676 L513,1660 L513,1678 L485,1694 Z" fill="#000"/>
<g transform="matrix(1,-0.51,0,1,488,1698)">
<rect x="0" y="0" width="25.4" height="25.5" fill="#2d2e3a"/>
<path d="M16.8,0 L25.4,0 L25.4,9.2 Z M25.4,16 L25.4,25.5 L15.7,25.5 Z M0,25.5 L0,16.5 L9.5,25.5 Z M0,0 L8.5,0 L0,10 Z" fill="#fcc425"/>
<path d="M9.5,2.2 L14.5,1.2 L17,8.3 L9.8,8 Z M18.2,9.2 L24.6,11 L23,16.3 L17.6,15.8 Z M9,17.3 L16.8,18.5 L12.4,24.3 Z M1,10.8 L7.6,10 L8,16 L5.5,17.2 Z" fill="#fcc425"/>
<circle cx="13" cy="12.7" r="3.7" fill="#fcc425"/>
</g>
</g>
<g>
<path d="M704,1706.5 L719,1696 Q721.5,1694.3 724,1696 L730.5,1700.5 Q732.7,1702 732.7,1705 L732.7,1737 Q732.7,1740 730,1741.7 L726.7,1743.8 L726.7,1747 L718,1753.5 Q715.5,1755 713,1753.5 L708.7,1750.5 L708.7,1746.5 L704,1743.5 Q702,1742 702,1739 L702,1710 Q702,1708 704,1706.5 Z" fill="#000" stroke="#000" stroke-width="4" stroke-linejoin="round"/>
<path d="M706.3,1711.3 L721.3,1699 L725.3,1700.7 L711.3,1708.7 L711,1743.3 L706.3,1741.3 Z" fill="#d7243a"/>
<path d="M712.2,1714.5 Q712.2,1712 714,1711 L728,1702.3 L728,1735.3 L712.2,1745.3 Z" fill="#c21e2e"/>
<path d="M712.7,1746.9 L722,1742.7 L722,1746 L715.3,1749.7 Z" fill="#bcbec0"/>
<circle cx="715.7" cy="1713.7" r="0.95" fill="#000"/>
<circle cx="720.3" cy="1711" r="0.95" fill="#000"/>
<circle cx="725.3" cy="1708" r="0.95" fill="#000"/>
</g>
<g>
<path d="M463,1847 L556,1795 L579,1872 L639,1907 L546.5,1966 L484,1930.5 Z" fill="#000" stroke="#000" stroke-width="8" stroke-linejoin="round"/>
<path d="M466.5,1849.5 L555,1799 L574,1872 L487,1922 Z" fill="#d1d2d4"/>
<path d="M475,1852 L551.5,1809.5 L566.5,1866 L490,1912 Z" fill="#000"/>
<path d="M486.5,1924.5 L576,1874 L637,1909 L546.5,1963.5 Z" fill="#d1d2d4"/>
<path d="M497,1925 L576,1880.5 L607,1899 L529,1943 Z M563,1931 L593,1915 L604,1922 L575,1939 Z" fill="none" stroke="#77787b" stroke-width="1"/>
<text transform="matrix(1,-0.57,-0.22,1,498,1881)" font-family="Liberation Sans, sans-serif" font-weight="bold" font-style="italic" font-size="14.2" fill="#fdc82a" stroke="#fdc82a" stroke-width="0.95" textLength="53" lengthAdjust="spacingAndGlyphs">SENSIT</text>
<path d="M490,1880 l4,-2.5 l2.5,1.5 l-1,5 l-4,2.5 l-2.5,-1.5 z M492.5,1870.5 l4,-2.5 l2,1 l-1,5 l-4,2.5 l-2,-1 z" fill="none" stroke="#d1d3d4" stroke-width="0.9"/>
</g>
<g fill="none" stroke="#a3291f" stroke-width="1.7">
<path d="M912.5,342.3 L765,342.3 L523,482"/>
<path d="M912.5,500.5 L765,500.5 L569,613.7"/>
<path d="M912.5,602.5 L765,602.5 L567,716.8"/>
<path d="M912.5,836 L765,836 L567,950.3"/>
<path d="M957.7,1533 L866,1533 L826,1510"/>
<path d="M912.5,1753 L758,1753 L733,1738.6"/>
<path d="M912.5,1825.6 L758,1825.6 L523,1690"/>
<path d="M912.5,2037.5 L758,2037.5 L596,1944"/>
</g>
<g font-family="Liberation Sans, sans-serif" fill="#a3291f">
<text x="765.3" y="315" font-size="18" textLength="110.5" lengthAdjust="spacingAndGlyphs">Crown Wheel</text>
<text x="765.3" y="333" font-size="18" textLength="71" lengthAdjust="spacingAndGlyphs">Gearbox</text>
<text x="765" y="492" font-size="18" textLength="118" lengthAdjust="spacingAndGlyphs">Torque Sensor</text>
<text x="765.3" y="522.5" font-size="16" textLength="58.8" lengthAdjust="spacingAndGlyphs">QTA141</text>
<text x="765.3" y="594" font-size="18" textLength="89.2" lengthAdjust="spacingAndGlyphs">Gear Head</text>
<text x="765.8" y="827.3" font-size="18" textLength="50" lengthAdjust="spacingAndGlyphs">Motor</text>
<text x="868.4" y="1496.7" font-size="18" textLength="52" lengthAdjust="spacingAndGlyphs">Digital</text>
<text x="868" y="1518.7" font-size="18" textLength="82" lengthAdjust="spacingAndGlyphs">Controller</text>
<text x="868.7" y="1556" font-size="16" textLength="52.3" lengthAdjust="spacingAndGlyphs">IDC305</text>
<text x="762.5" y="1740.5" font-size="18" textLength="87.5" lengthAdjust="spacingAndGlyphs">USB Series</text>
<text x="762.8" y="1813.5" font-size="18" textLength="143.8" lengthAdjust="spacingAndGlyphs">Handheld Display</text>
<text x="762.5" y="1853" font-size="16" textLength="53.3" lengthAdjust="spacingAndGlyphs">IHH500</text>
<text x="762.5" y="2024.8" font-size="18" textLength="82.8" lengthAdjust="spacingAndGlyphs">Computer</text>
</g>
</svg></body></html>
